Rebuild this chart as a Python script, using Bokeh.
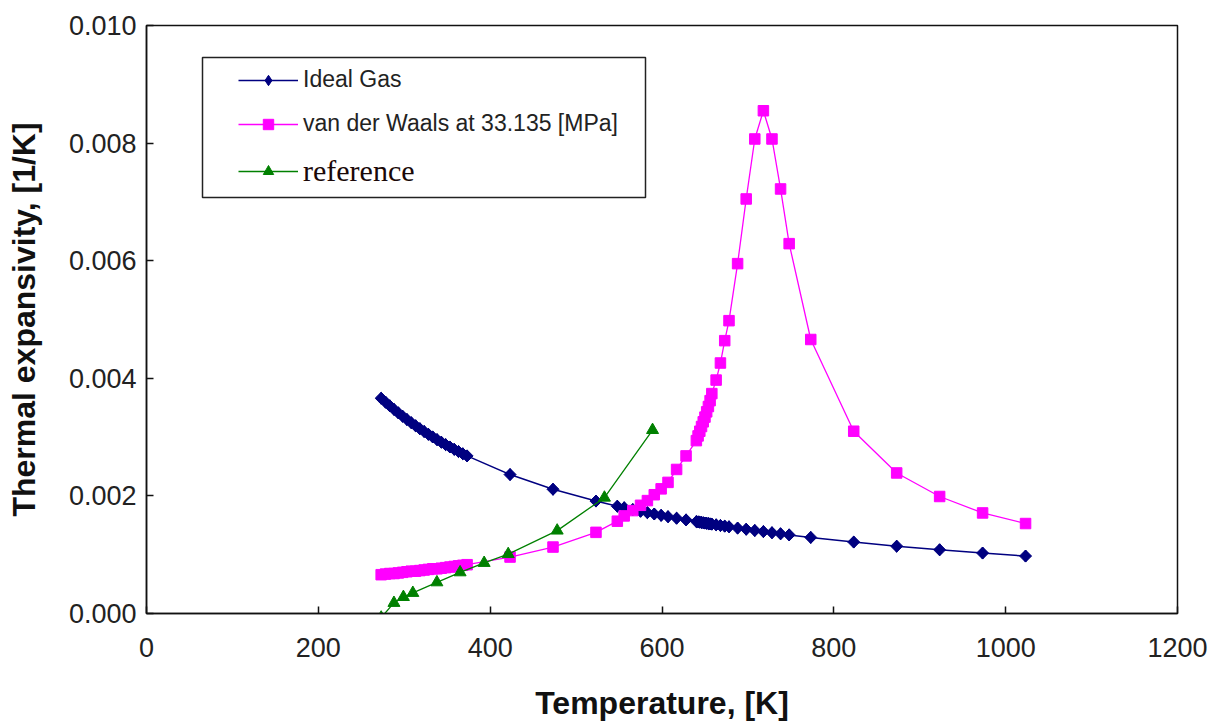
from bokeh.plotting import figure
from bokeh.models import FixedTicker, PrintfTickFormatter, Legend, LegendItem, BoxAnnotation
from bokeh.embed import file_html
from bokeh.resources import INLINE

# ---- data ----
temperature = [273.15, 278.15, 283.15, 288.15, 293.15, 298.15, 303.15, 308.15, 313.15, 318.15,
               323.15, 328.15, 333.15, 338.15, 343.15, 348.15, 353.15, 358.15, 363.15, 368.15,
               373.15, 423.15, 473.15, 523.15, 548, 556, 566, 575, 583, 591,
               599, 607, 617, 628, 640, 642, 644, 646, 648, 650,
               652, 654, 656, 658, 663, 668, 673, 678, 688, 698,
               708, 718, 728, 738, 748, 773.15, 823.15, 873.15, 923.15, 973.15,
               1023.15]

ideal_gas = [0.003661, 0.003595, 0.003532, 0.003470, 0.003411, 0.003354, 0.003299, 0.003245, 0.003193, 0.003143,
             0.003095, 0.003047, 0.003002, 0.002957, 0.002914, 0.002872, 0.002832, 0.002792, 0.002754, 0.002716,
             0.002680, 0.002363, 0.002113, 0.001912, 0.001825, 0.001799, 0.001767, 0.001739, 0.001715, 0.001692,
             0.001669, 0.001647, 0.001621, 0.001592, 0.001563, 0.001558, 0.001553, 0.001548, 0.001543, 0.001538,
             0.001534, 0.001529, 0.001524, 0.001520, 0.001508, 0.001497, 0.001486, 0.001475, 0.001453, 0.001433,
             0.001412, 0.001393, 0.001374, 0.001355, 0.001337, 0.001294, 0.001215, 0.001145, 0.001083, 0.001028,
             0.000977]

van_der_waals = [0.00066, 0.00067, 0.00068, 0.00068, 0.00069, 0.00070, 0.00071, 0.00072, 0.00072, 0.00073,
                 0.00074, 0.00075, 0.00076, 0.00076, 0.00077, 0.00078, 0.00079, 0.00080, 0.00081, 0.00082,
                 0.00083, 0.00096, 0.00113, 0.00138, 0.00157, 0.00166, 0.00175, 0.00184, 0.00192, 0.00202,
                 0.00212, 0.00223, 0.00245, 0.00268, 0.00294, 0.00302, 0.00310, 0.00318, 0.00326, 0.00334,
                 0.00343, 0.00352, 0.00362, 0.00374, 0.00397, 0.00426, 0.00464, 0.00498, 0.00595, 0.00705,
                 0.00807, 0.00855, 0.00807, 0.00722, 0.00629, 0.00466, 0.00310, 0.00239, 0.00199, 0.00171,
                 0.00153]

ref_temperature = [273.15, 288, 299, 310, 338, 365, 393, 421, 478, 533, 589]
reference = [-0.00007, 0.00018, 0.00028, 0.00035, 0.00053, 0.00070, 0.00086, 0.00101, 0.00141, 0.00197, 0.00312]

x_ticks = [0, 200, 400, 600, 800, 1000, 1200]
y_ticks = [0.000, 0.002, 0.004, 0.006, 0.008, 0.010]

# ---- figure ----
p = figure(width=1212, height=725, x_range=(0, 1200), y_range=(0, 0.010),
           output_backend="svg", toolbar_location=None,
           min_border_left=146, min_border_right=35, min_border_top=25, min_border_bottom=112)
p.background_fill_color = "white"
p.border_fill_color = "white"
p.outline_line_color = "#111111"
p.outline_line_width = 1.5
p.xgrid.visible = False
p.ygrid.visible = False

FONT = "Liberation Sans"
SERIF = "Liberation Serif"
for ax in (p.xaxis[0], p.yaxis[0]):
    ax.axis_line_color = "#111111"
    ax.axis_line_width = 1.5
    ax.major_tick_in = 7
    ax.major_tick_out = 0
    ax.major_tick_line_color = "#111111"
    ax.major_tick_line_width = 1.5
    ax.minor_tick_line_color = None
    ax.major_label_text_font = FONT
    ax.major_label_text_font_size = "27px"
    ax.major_label_text_color = "#222222"
    ax.axis_label_text_font = FONT
    ax.axis_label_text_font_style = "bold"
    ax.axis_label_text_font_size = "32px"
    ax.axis_label_text_color = "#111111"

p.xaxis.ticker = FixedTicker(ticks=x_ticks)
p.yaxis.ticker = FixedTicker(ticks=y_ticks)
p.yaxis.formatter = PrintfTickFormatter(format="%.3f")
p.xaxis.axis_label = "Temperature, [K]"
p.yaxis.axis_label = "Thermal expansivity, [1/K]"
p.xaxis.major_label_standoff = 24
p.yaxis.major_label_standoff = 10
p.xaxis.axis_label_standoff = 25
p.yaxis.axis_label_standoff = 24

NAVY = "#000080"
MAGENTA = "#FF00FF"
GREEN = "#008000"

l1 = p.line(temperature, ideal_gas, line_color=NAVY, line_width=1.5)
# diamond symbol (also used for the legend key), widened by a rotated square drawn over it
m1_key = p.scatter(temperature, ideal_gas, marker="diamond", size=12, fill_color=NAVY, line_color=NAVY)
m1 = p.scatter(temperature, ideal_gas, marker="square", angle=0.7854, size=8.5,
               fill_color=NAVY, line_color=NAVY)
l2 = p.line(temperature, van_der_waals, line_color=MAGENTA, line_width=1.3)
m2 = p.scatter(temperature, van_der_waals, marker="square", size=10.5, fill_color=MAGENTA, line_color=MAGENTA)
l3 = p.line(ref_temperature, reference, line_color=GREEN, line_width=1.3)
m3 = p.scatter(ref_temperature, reference, marker="triangle", size=12, fill_color=GREEN, line_color=GREEN)

# legend frame (screen units, relative to the plot frame)
legend_box = BoxAnnotation(left=56, right=499, top=556, bottom=416,
                           left_units="screen", right_units="screen",
                           top_units="screen", bottom_units="screen",
                           fill_color="white", fill_alpha=1.0,
                           line_color="#222222", line_width=1.5, line_alpha=1.0)
p.add_layout(legend_box)

legend_a = Legend(items=[
    LegendItem(label="Ideal Gas", renderers=[l1, m1_key]),
    LegendItem(label="van der Waals at 33.135 [MPa]", renderers=[l2, m2]),
], location=(92, 476))
legend_b = Legend(items=[
    LegendItem(label="reference", renderers=[l3, m3]),
], location=(92, 425))

for lg, font, size, color in ((legend_a, FONT, "23px", "#222222"), (legend_b, SERIF, "30px", "#1a0808")):
    lg.border_line_color = None
    lg.background_fill_alpha = 0.0
    lg.label_text_font = font
    lg.label_text_font_size = size
    lg.label_text_color = color
    lg.glyph_width = 60
    lg.glyph_height = 26
    lg.label_height = 26
    lg.label_standoff = 5
    lg.spacing = 17
    lg.padding = 0
    lg.margin = 0
    p.add_layout(lg, "center")

open("out.html", "w").write(file_html(p, INLINE))
